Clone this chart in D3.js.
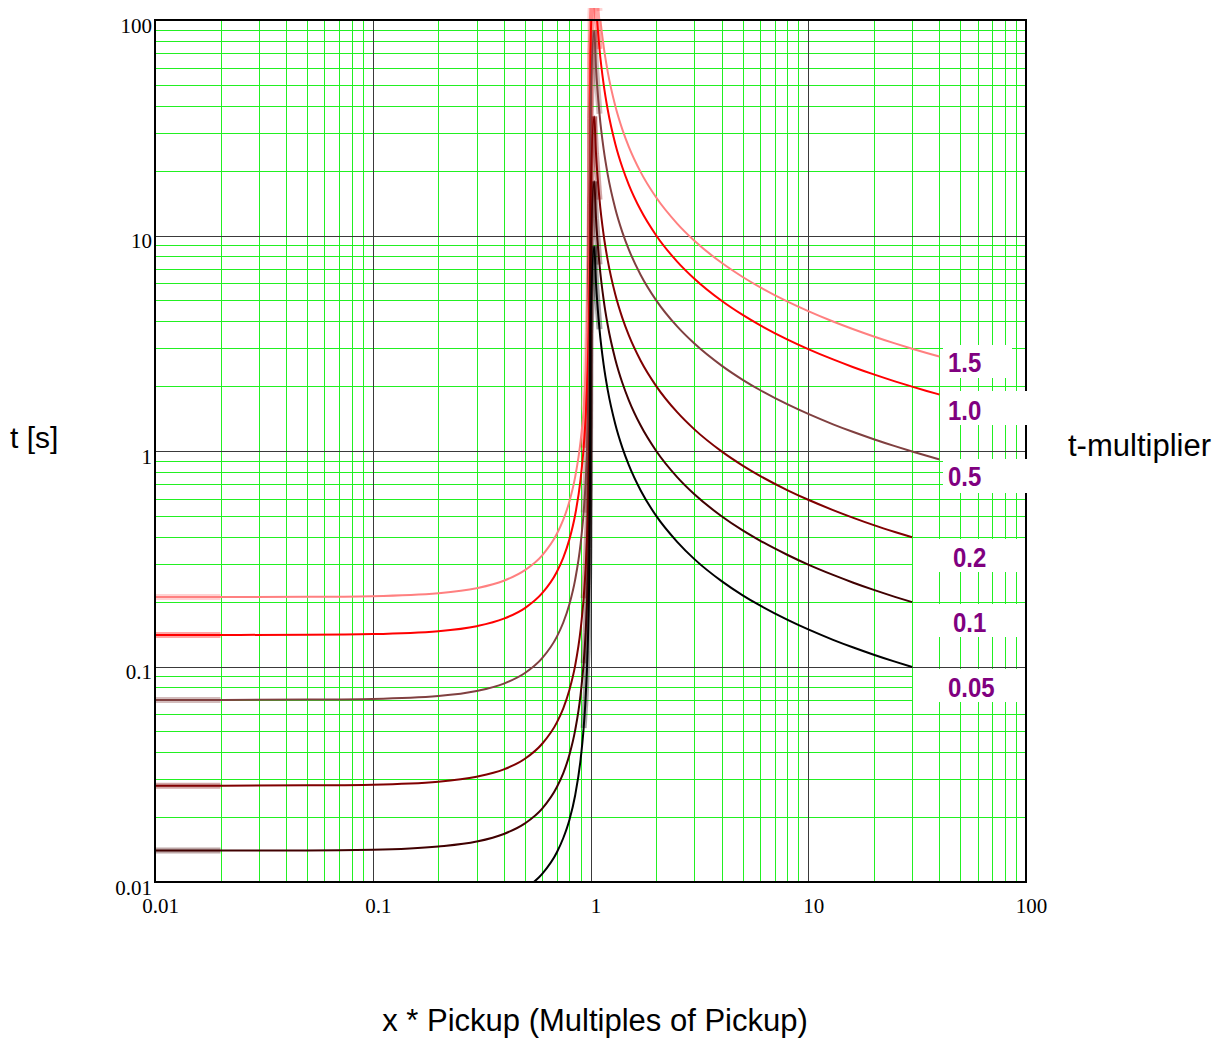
<!DOCTYPE html>
<html>
<head>
<meta charset="utf-8">
<script src="https://cdn.jsdelivr.net/npm/d3@7"></script>
<style>
  body { margin: 0; background: #fff; }
  svg { display: block; }
</style>
</head>
<body>
<svg id="chart" width="1225" height="1042"></svg>
<script>
// Sample points (multiples of pickup) below and above pickup
const xBelow = [0.01, 0.02, 0.05, 0.1, 0.2, 0.3, 0.4, 0.5, 0.6, 0.7, 0.75, 0.8, 0.85, 0.9, 0.93, 0.95, 0.97, 0.98, 0.99, 0.995, 0.999];
const xAbove = [1.04, 1.06, 1.1, 1.15, 1.2, 1.3, 1.4, 1.5, 1.7, 2, 2.5, 3, 4, 5, 6, 8, 10, 13, 16, 20, 25, 30, 35, 40];

// Time-multiplier settings
const multipliers = ["1.5", "1.0", "0.5", "0.2", "0.1", "0.05"];

// Times [s] at xBelow for each multiplier
const tBelow_15 = [0.2100, 0.2101, 0.2105, 0.2121, 0.2188, 0.2308, 0.2500, 0.2800, 0.3281, 0.4118, 0.4800, 0.5833, 0.7568, 1.105, 1.554, 2.154, 3.553, 5.303, 10.55, 21.05, 105.1];
const tBelow_10 = [0.1400, 0.1401, 0.1404, 0.1414, 0.1458, 0.1538, 0.1667, 0.1867, 0.2188, 0.2745, 0.3200, 0.3889, 0.5045, 0.7368, 1.036, 1.436, 2.369, 3.535, 7.035, 14.04, 70.04];
const tBelow_05 = [0.0700, 0.0700, 0.0702, 0.0707, 0.0729, 0.0769, 0.0833, 0.0933, 0.1094, 0.1373, 0.1600, 0.1944, 0.2523, 0.3684, 0.5181, 0.7179, 1.184, 1.768, 3.518, 7.018, 35.02];
const tBelow_02 = [0.0280, 0.0280, 0.0281, 0.0283, 0.0292, 0.0308, 0.0333, 0.0373, 0.0438, 0.0549, 0.0640, 0.0778, 0.1009, 0.1474, 0.2073, 0.2872, 0.4738, 0.7071, 1.407, 2.807, 14.01];
const tBelow_01 = [0.0140, 0.0140, 0.0140, 0.0141, 0.0146, 0.0154, 0.0167, 0.0187, 0.0219, 0.0275, 0.0320, 0.0389, 0.0505, 0.0737, 0.1036, 0.1436, 0.2369, 0.3535, 0.7035, 1.404, 7.004];
const tBelow_005 = [0.0070, 0.0070, 0.0070, 0.0071, 0.0073, 0.0077, 0.0083, 0.0093, 0.0109, 0.0137, 0.0160, 0.0194, 0.0252, 0.0368, 0.0518, 0.0718, 0.1184, 0.1768, 0.3518, 0.7018, 3.502];

// Times [s] at xAbove for each multiplier
const tAbove_15 = [267.6, 180.1, 110.1, 75.02, 57.49, 39.92, 31.10, 25.79, 19.68, 15.04, 11.36, 9.453, 7.470, 6.420, 5.756, 4.946, 4.457, 3.990, 3.683, 3.401, 3.158, 2.984, 2.850, 2.743];
const tAbove_10 = [178.4, 120.1, 73.37, 50.02, 38.32, 26.61, 20.73, 17.19, 13.12, 10.03, 7.570, 6.302, 4.980, 4.280, 3.837, 3.297, 2.971, 2.660, 2.455, 2.267, 2.105, 1.989, 1.900, 1.829];
const tAbove_05 = [89.20, 60.03, 36.69, 25.01, 19.16, 13.31, 10.37, 8.597, 6.561, 5.015, 3.785, 3.151, 2.490, 2.140, 1.919, 1.649, 1.486, 1.330, 1.228, 1.134, 1.053, 0.9945, 0.950, 0.9143];
const tAbove_02 = [35.68, 24.01, 14.67, 10.00, 7.665, 5.322, 4.147, 3.439, 2.624, 2.006, 1.514, 1.260, 0.996, 0.856, 0.767, 0.659, 0.594, 0.532, 0.491, 0.453, 0.421, 0.398];
const tAbove_01 = [17.84, 12.01, 7.337, 5.002, 3.832, 2.661, 2.073, 1.719, 1.312, 1.003, 0.757, 0.630, 0.498, 0.428, 0.384, 0.330, 0.297, 0.266, 0.2455, 0.2267, 0.2105, 0.1989];
const tAbove_005 = [8.921, 6.003, 3.669, 2.501, 1.916, 1.331, 1.037, 0.860, 0.656, 0.501, 0.379, 0.315, 0.249, 0.214, 0.192, 0.165, 0.1486, 0.133, 0.1228, 0.1134, 0.1053, 0.0995];

// Axis tick labels
const xTickLabels = ["0.01", "0.1", "1", "10", "100"];
const yTickLabels = ["0.01", "0.1", "1", "10", "100"];

// ---- styling / layout ----
const colors = ["#ff8080", "#ff0000", "#804040", "#800000", "#400000", "#000000"];
const labelBoxes = [
  { x: 943, y: 345, w: 69,  h: 33, tx: 948, ty: 372 },
  { x: 943, y: 391, w: 90,  h: 34, tx: 948, ty: 420 },
  { x: 943, y: 459, w: 90,  h: 34, tx: 948, ty: 486 },
  { x: 913, y: 539, w: 112, h: 33, tx: 953, ty: 567 },
  { x: 913, y: 604, w: 112, h: 33, tx: 953, ty: 632 },
  { x: 913, y: 669, w: 112, h: 33, tx: 948, ty: 697 }
];

const pLeft = 155, pRight = 1026, pTop = 20, pBottom = 882;
const W = pRight - pLeft, H = pBottom - pTop;

const svg = d3.select("#chart");
const x = d3.scaleLog().domain([0.01, 100]).range([pLeft, pRight]);
const y = d3.scaleLog().domain([0.01, 100]).range([pBottom, pTop]);

const isDecade = v => Math.abs(Math.log10(v) - Math.round(Math.log10(v))) < 1e-9;
const minorX = x.ticks().filter(v => !isDecade(v));
const minorY = y.ticks().filter(v => !isDecade(v));
const majorX = xTickLabels.map(Number).filter(v => v > 0.01 && v < 100);
const majorY = yTickLabels.map(Number).filter(v => v > 0.01 && v < 100);

const defs = svg.append("defs");
defs.append("clipPath").attr("id", "plotClip")
  .append("rect").attr("x", pLeft).attr("y", pTop).attr("width", W).attr("height", H);
defs.append("clipPath").attr("id", "fadeClip")
  .append("rect").attr("x", pLeft).attr("y", 8).attr("width", W).attr("height", pBottom - 8);

const gridStyle = (color) => g => {
  g.select(".domain").remove();
  g.selectAll("line").attr("stroke", color).attr("stroke-width", 1).attr("shape-rendering", "crispEdges");
};

// minor grid
svg.append("g").attr("transform", `translate(0,${pBottom})`)
  .call(d3.axisBottom(x).tickValues(minorX).tickSize(-H).tickFormat(""))
  .call(gridStyle("#22f022"));
svg.append("g").attr("transform", `translate(${pLeft},0)`)
  .call(d3.axisLeft(y).tickValues(minorY).tickSize(-W).tickFormat(""))
  .call(gridStyle("#22f022"));

// major grid
svg.append("g").attr("transform", `translate(0,${pBottom})`)
  .call(d3.axisBottom(x).tickValues(majorX).tickSize(-H).tickFormat(""))
  .call(gridStyle("#3a3a3a"));
svg.append("g").attr("transform", `translate(${pLeft},0)`)
  .call(d3.axisLeft(y).tickValues(majorY).tickSize(-W).tickFormat(""))
  .call(gridStyle("#3a3a3a"));

// curves
const series = [
  [tBelow_15, tAbove_15], [tBelow_10, tAbove_10], [tBelow_05, tAbove_05],
  [tBelow_02, tAbove_02], [tBelow_01, tAbove_01], [tBelow_005, tAbove_005]
].map(([lo, hi], i) => ({
  name: multipliers[i],
  color: colors[i],
  points: lo.map((t, j) => [xBelow[j], t]).concat(hi.map((t, j) => [xAbove[j], t]))
}));

const line = d3.line().x(d => x(d[0])).y(d => y(d[1])).curve(d3.curveMonotoneX);

// nearly axis-parallel pieces are rendered with a broad soft pen
const fadeG = svg.append("g").attr("clip-path", "url(#fadeClip)");
series.forEach(s => {
  s.points.forEach((p, j) => {
    if (j === 0) return;
    const a = s.points[j - 1];
    const dx = x(p[0]) - x(a[0]), dy = y(p[1]) - y(a[1]);
    if (j === 1 || Math.abs(dy) > 12 * Math.abs(dx)) {
      fadeG.append("line")
        .attr("x1", x(a[0])).attr("y1", y(a[1]))
        .attr("x2", x(p[0])).attr("y2", y(p[1]))
        .attr("stroke", s.color).attr("stroke-width", 6)
        .attr("stroke-opacity", 0.35).attr("stroke-linecap", "butt");
    }
  });
});

const curveG = svg.append("g").attr("clip-path", "url(#plotClip)");
curveG.selectAll("path").data(series).join("path")
  .attr("d", d => line(d.points))
  .attr("fill", "none")
  .attr("stroke", d => d.color)
  .attr("stroke-width", 2);

// frame
svg.append("rect").attr("x", pLeft).attr("y", pTop).attr("width", W).attr("height", H)
  .attr("fill", "none").attr("stroke", "#000").attr("stroke-width", 2);

// multiplier labels
const lab = svg.append("g");
lab.selectAll("rect").data(labelBoxes).join("rect")
  .attr("x", d => d.x).attr("y", d => d.y).attr("width", d => d.w).attr("height", d => d.h)
  .attr("fill", "#fff");
lab.selectAll("text").data(labelBoxes).join("text")
  .attr("transform", d => `translate(${d.tx},${d.ty}) scale(1,1.15)`)
  .attr("font-family", "'Liberation Sans', Arial, sans-serif")
  .attr("font-weight", "bold").attr("font-size", 24)
  .attr("fill", "#800080")
  .text((d, i) => multipliers[i]);

// tick labels
const serif = "'Liberation Serif', 'Times New Roman', serif";
svg.append("g").attr("transform", `translate(0,${pBottom})`)
  .call(d3.axisBottom(x).tickValues(xTickLabels.map(Number)).tickSize(0).tickFormat((d, i) => xTickLabels[i]))
  .call(g => g.select(".domain").remove())
  .call(g => g.selectAll("text").attr("x", 5).attr("y", 31).attr("dy", 0)
    .attr("font-family", serif).attr("font-size", 21).attr("fill", "#000"));
svg.append("g").attr("transform", `translate(${pLeft},0)`)
  .call(d3.axisLeft(y).tickValues(yTickLabels.map(Number)).tickSize(0).tickFormat((d, i) => yTickLabels[i]))
  .call(g => g.select(".domain").remove())
  .call(g => g.selectAll("text").attr("x", -3).attr("dy", 12)
    .attr("font-family", serif).attr("font-size", 21).attr("fill", "#000"));

// axis titles
const titleFont = "'Liberation Sans', Arial, sans-serif";
svg.append("text").attr("x", 10).attr("y", 448).attr("font-family", titleFont).attr("font-size", 30).text("t [s]");
svg.append("text").attr("x", 1068).attr("y", 456).attr("font-family", titleFont).attr("font-size", 31).text("t-multiplier");
svg.append("text").attr("x", 595).attr("y", 1031).attr("text-anchor", "middle").attr("font-family", titleFont).attr("font-size", 31).text("x * Pickup (Multiples of Pickup)");
</script>
</body>
</html>
